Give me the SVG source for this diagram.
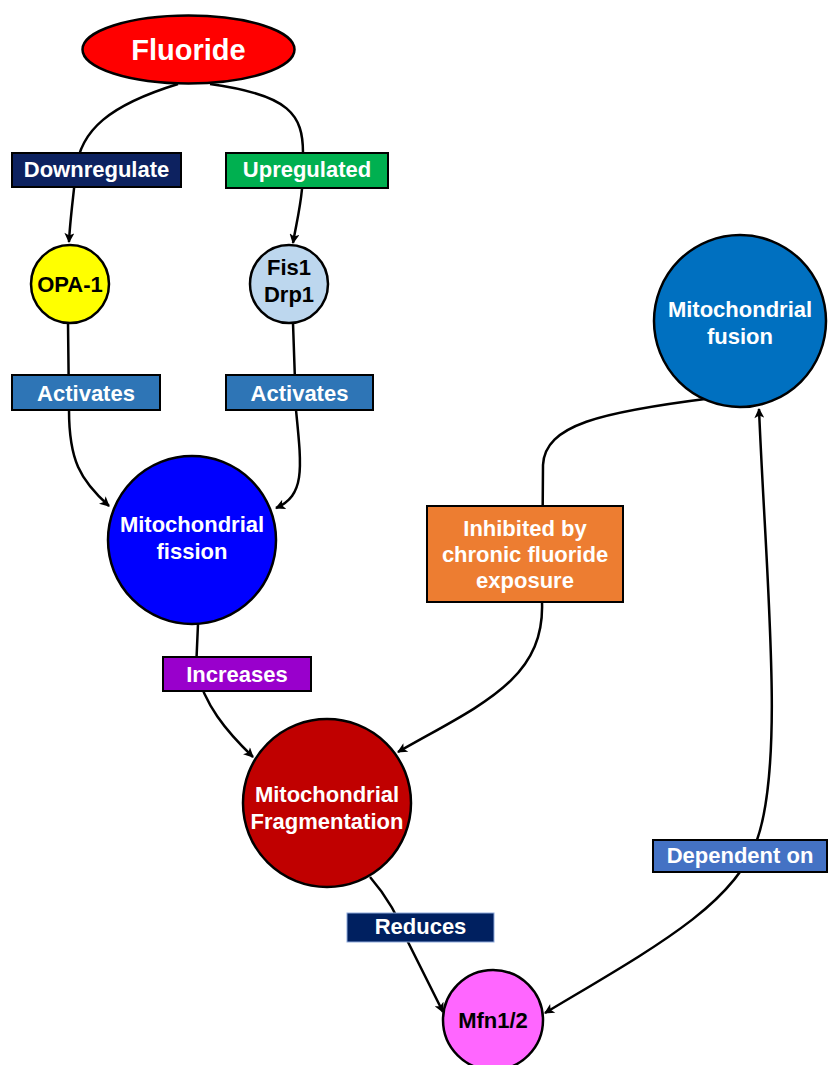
<svg xmlns="http://www.w3.org/2000/svg" width="829" height="1065" viewBox="0 0 829 1065">
<defs>
<marker id="arr" viewBox="0 0 10 10" refX="9" refY="5" markerWidth="11" markerHeight="10" markerUnits="userSpaceOnUse" orient="auto-start-reverse">
<path d="M0,0 L10,5 L0,10 L2.5,5 Z" fill="#000"/>
</marker>
</defs>
<style>
.node{stroke:#000;stroke-width:2.5}
.box{stroke:#000;stroke-width:2}
.edge{fill:none;stroke:#000;stroke-width:2.5}
text{font-family:"Liberation Sans",Arial,sans-serif;font-weight:bold;text-anchor:middle}
.w{fill:#fff;font-size:22px}
.k{fill:#000;font-size:22px}
</style>
<rect width="829" height="1065" fill="#fff"/>
<g id="connectors">
<path class="edge" d="M178,84 C110,105 80,130 76,170 C73,200 70,220 69,242" marker-end="url(#arr)"/>
<path class="edge" d="M210,84 C290,95 303,115 303,153 L302,189 C300,210 296,225 293,243" marker-end="url(#arr)"/>
<path class="edge" d="M68,323 L69,410 C69,460 80,480 109,506" marker-end="url(#arr)"/>
<path class="edge" d="M293,323 L296,410 C302,470 305,495 276,508" marker-end="url(#arr)"/>
<path class="edge" d="M198,624 L196,670 C205,705 225,730 253,757" marker-end="url(#arr)"/>
<path class="edge" d="M713,398 C600,412 545,425 543,465 L542,602 C545,680 480,705 398,752" marker-end="url(#arr)"/>
<path class="edge" d="M370,877 C390,900 400,920 408,942 L443,1012" marker-end="url(#arr)"/>
<path class="edge" d="M759,409 C766,580 785,760 757,840 C735,905 650,950 545,1013" marker-start="url(#arr)" marker-end="url(#arr)"/>
</g>
<g id="fluoride">
<ellipse class="node" cx="188.5" cy="49.5" rx="106" ry="34" fill="#FF0000"/>
<text x="188.5" y="60" fill="#fff" font-size="29">Fluoride</text>
</g>
<g id="lbl-downregulate">
<rect class="box" x="12" y="153" width="169" height="34" fill="#0D2260"/>
<text class="w" x="96.5" y="177">Downregulate</text>
</g>
<g id="lbl-upregulated">
<rect class="box" x="226" y="153" width="162" height="35" fill="#00B050"/>
<text class="w" x="307" y="177">Upregulated</text>
</g>
<g id="opa1">
<circle class="node" cx="70" cy="284" r="39" fill="#FFFF00"/>
<text class="k" x="70" y="292">OPA-1</text>
</g>
<g id="fis1drp1">
<circle class="node" cx="289" cy="284" r="39" fill="#BDD7EE"/>
<text class="k" x="289" y="275">Fis1</text>
<text class="k" x="289" y="302">Drp1</text>
</g>
<g id="lbl-activates1">
<rect class="box" x="12" y="375" width="148" height="35" fill="#2E75B6"/>
<text class="w" x="86" y="401">Activates</text>
</g>
<g id="lbl-activates2">
<rect class="box" x="226" y="375" width="147" height="35" fill="#2E75B6"/>
<text class="w" x="299.5" y="401">Activates</text>
</g>
<g id="fission">
<circle class="node" cx="192" cy="540" r="84" fill="#0000FF"/>
<text class="w" x="192" y="532">Mitochondrial</text>
<text class="w" x="192" y="559">fission</text>
</g>
<g id="lbl-increases">
<rect class="box" x="163" y="657" width="148" height="34" fill="#9900CC"/>
<text class="w" x="237" y="682">Increases</text>
</g>
<g id="fragmentation">
<circle class="node" cx="327" cy="803" r="84" fill="#C00000"/>
<text class="w" x="327" y="802">Mitochondrial</text>
<text class="w" x="327" y="829">Fragmentation</text>
</g>
<g id="lbl-reduces">
<rect x="347" y="913" width="147" height="29" fill="#002060" stroke="#8EA9DB" stroke-width="1"/>
<text class="w" x="420.5" y="934">Reduces</text>
</g>
<g id="mfn">
<circle class="node" cx="493" cy="1020" r="50" fill="#FF66FF"/>
<text class="k" x="493" y="1028">Mfn1/2</text>
</g>
<g id="fusion">
<circle class="node" cx="740" cy="321" r="86" fill="#0070C0"/>
<text class="w" x="740" y="317">Mitochondrial</text>
<text class="w" x="740" y="344">fusion</text>
</g>
<g id="lbl-inhibited">
<rect class="box" x="427" y="506" width="196" height="96" fill="#ED7D31"/>
<text class="w" x="525" y="536">Inhibited by</text>
<text class="w" x="525" y="562">chronic fluoride</text>
<text class="w" x="525" y="588">exposure</text>
</g>
<g id="lbl-dependent">
<rect class="box" x="653" y="840" width="174" height="32" fill="#4472C4"/>
<text class="w" x="740" y="863">Dependent on</text>
</g>
</svg>
